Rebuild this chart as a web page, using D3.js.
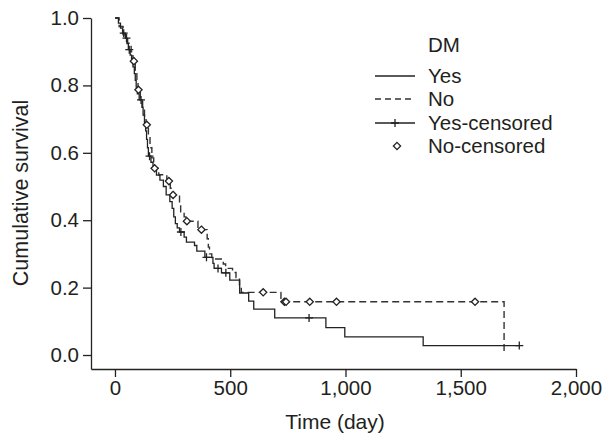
<!DOCTYPE html>
<html>
<head>
<meta charset="utf-8">
<script src="https://cdnjs.cloudflare.com/ajax/libs/d3/7.8.5/d3.min.js"></script>
<style>
body { margin: 0; background: #fff; }
text { font-family: "Liberation Sans", Arial, Helvetica, sans-serif; fill: #231f20; }
</style>
</head>
<body>
<div id="chart"></div>
<script>
// Kaplan-Meier steps (time in days, survival after the drop)
var yesTime = [15, 24, 33, 45, 52, 58, 66, 72, 78, 84, 88, 92, 97, 105, 117, 122, 128, 133, 137, 141, 145,
  156, 165, 180, 195, 210, 222, 238, 248, 255, 262, 270, 280, 300, 310, 345, 355, 390, 425, 430, 462,
  498, 541, 580, 602, 693, 915, 997, 1337];
var yesSurv = [0.985, 0.97, 0.955, 0.94, 0.924, 0.906, 0.89, 0.872, 0.855, 0.835, 0.815, 0.795, 0.775, 0.757,
  0.735, 0.712, 0.69, 0.665, 0.64, 0.615, 0.59, 0.572, 0.553, 0.534, 0.519, 0.5, 0.475, 0.455, 0.435, 0.41,
  0.39, 0.377, 0.365, 0.35, 0.335, 0.325, 0.308, 0.29, 0.272, 0.257, 0.244, 0.222, 0.184, 0.16, 0.136,
  0.11, 0.081, 0.054, 0.028];
var yesEnd = 1754;
var yesCensored = [38, 50, 62, 113, 150, 286, 397, 447, 481, 842, 1754];

var noTime = [18, 35, 55, 70, 78, 88, 95, 100, 110, 120, 128, 135, 145, 152, 160, 168, 190, 225, 240, 248,
  280, 285, 300, 308, 360, 400, 405, 410, 420, 470, 480, 510, 525, 540, 548, 720, 1688];
var noSurv = [0.975, 0.95, 0.925, 0.9, 0.872, 0.845, 0.815, 0.787, 0.76, 0.735, 0.71, 0.683, 0.65, 0.615,
  0.585, 0.554, 0.535, 0.516, 0.495, 0.475, 0.45, 0.425, 0.41, 0.397, 0.372, 0.345, 0.32, 0.3, 0.285,
  0.27, 0.257, 0.245, 0.23, 0.205, 0.186, 0.158, 0.0];
var noEnd = 1688;
var noCensored = [82, 102, 138, 172, 234, 252, 312, 375, 643, 735, 742, 845, 961, 1562];

var xTicks = [0, 500, 1000, 1500, 2000];
var yTicks = [0, 0.2, 0.4, 0.6, 0.8, 1.0];
var legendTitle = "DM";
var legendLabels = ["Yes", "No", "Yes-censored", "No-censored"];

var width = 610, height = 441;
var ink = "#222";

var svg = d3.select("#chart").append("svg")
  .attr("width", width)
  .attr("height", height);

var x = d3.scaleLinear().domain([-104, 2000]).range([91, 576]);
var y = d3.scaleLinear().domain([-0.0415, 1]).range([369, 18]);

function steps(times, survs, end) {
  var pts = [[0, 1]];
  for (var i = 0; i < times.length; i++) pts.push([times[i], survs[i]]);
  if (pts[pts.length - 1][0] < end) pts.push([end, survs[survs.length - 1]]);
  return pts;
}

// survival at time t from the step data
function survAt(times, survs, t) {
  var i = d3.bisectRight(times, t);
  return i == 0 ? 1 : survs[i - 1];
}

var line = d3.line()
  .x(function(d) { return x(d[0]); })
  .y(function(d) { return y(d[1]); })
  .curve(d3.curveStepAfter);

// axes
var xAxis = d3.axisBottom(x).tickValues(xTicks).tickFormat(d3.format(","))
  .tickSize(8).tickSizeOuter(0).tickPadding(3);
var yAxis = d3.axisLeft(y).tickValues(yTicks).tickFormat(d3.format(".1f"))
  .tickSize(8).tickSizeOuter(0).tickPadding(4);

var gx = svg.append("g").attr("transform", "translate(0,369)").call(xAxis);
var gy = svg.append("g").attr("transform", "translate(91,0)").call(yAxis);

[gx, gy].forEach(function(g) {
  g.selectAll("path, line").attr("stroke", ink).attr("stroke-width", 1.3);
  g.selectAll("text").style("font-size", "20.5px").attr("fill", "#231f20");
});

svg.append("text")
  .attr("x", 335)
  .attr("y", 429)
  .attr("text-anchor", "middle")
  .style("font-size", "21px")
  .text("Time (day)");

svg.append("text")
  .attr("transform", "translate(28,193) rotate(-90)")
  .attr("text-anchor", "middle")
  .style("font-size", "21.5px")
  .text("Cumulative survival");

// curves
svg.append("path")
  .datum(steps(noTime, noSurv, noEnd))
  .attr("d", line)
  .attr("fill", "none")
  .attr("stroke", "#333")
  .attr("stroke-width", 1.4)
  .attr("stroke-dasharray", "7,4");

svg.append("path")
  .datum(steps(yesTime, yesSurv, yesEnd))
  .attr("d", line)
  .attr("fill", "none")
  .attr("stroke", ink)
  .attr("stroke-width", 1.3);

var plus = "M-4,0H4M0,-4V4";
var diamond = "M0,-3.6L3.6,0L0,3.6L-3.6,0Z";

svg.selectAll(".yescens")
  .data(yesCensored)
  .enter().append("path")
  .attr("class", "yescens")
  .attr("transform", function(d) { return "translate(" + x(d) + "," + y(survAt(yesTime, yesSurv, d)) + ")"; })
  .attr("d", plus)
  .attr("stroke", ink)
  .attr("stroke-width", 1.3)
  .attr("fill", "none");

svg.selectAll(".nocens")
  .data(noCensored)
  .enter().append("path")
  .attr("class", "nocens")
  .attr("transform", function(d) { return "translate(" + x(d) + "," + y(survAt(noTime, noSurv, d)) + ")"; })
  .attr("d", diamond)
  .attr("stroke", ink)
  .attr("stroke-width", 1.3)
  .attr("fill", "#fff");

// legend
var lg = svg.append("g").attr("transform", "translate(375,0)");
lg.append("text").attr("x", 53).attr("y", 52).style("font-size", "20.5px").text(legendTitle);

var rowY = [83, 106, 130, 153];
legendLabels.forEach(function(lab, i) {
  var yy = rowY[i];
  lg.append("text").attr("x", 53).attr("y", yy).style("font-size", "20.5px").text(lab);
  var my = yy - 7;
  if (i < 3) {
    var l = lg.append("line").attr("x1", 0).attr("x2", 40).attr("y1", my).attr("y2", my)
      .attr("stroke", i == 1 ? "#333" : ink).attr("stroke-width", 1.3);
    if (i == 1) l.attr("stroke-dasharray", "6,4");
  }
  if (i == 2) {
    lg.append("path").attr("transform", "translate(20," + my + ")").attr("d", plus)
      .attr("stroke", ink).attr("stroke-width", 1.3).attr("fill", "none");
  }
  if (i == 3) {
    lg.append("path").attr("transform", "translate(22," + my + ")").attr("d", diamond)
      .attr("stroke", ink).attr("stroke-width", 1.3).attr("fill", "#fff");
  }
});
</script>
</body>
</html>
